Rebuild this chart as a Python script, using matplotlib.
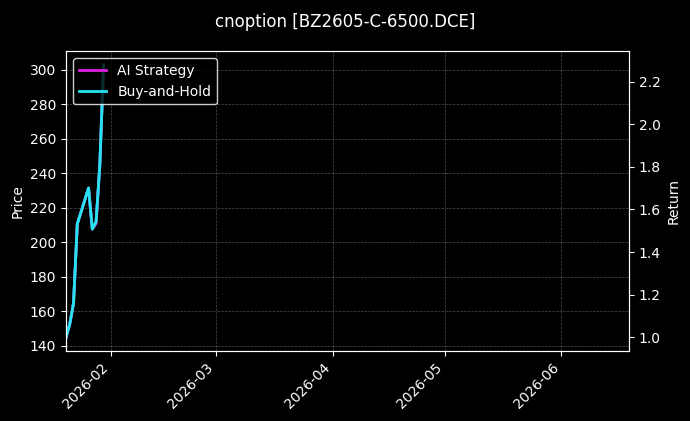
import matplotlib
matplotlib.use("Agg")
import matplotlib.pyplot as plt
import matplotlib.dates as mdates
import pandas as pd

plt.style.use("dark_background")

dates = pd.to_datetime(["2026-01-20", "2026-01-21", "2026-01-22", "2026-01-23",
                        "2026-01-26", "2026-01-27", "2026-01-28", "2026-01-29",
                        "2026-01-30"])
price = [144.8, 152.6, 164.8, 210.6, 231.5, 207.7, 211.8, 244.9, 302.8]
ai_return = [1.000, 1.063, 1.161, 1.532, 1.700, 1.508, 1.534, 1.808, 2.277]
bh_return = [1.000, 1.063, 1.161, 1.532, 1.700, 1.508, 1.541, 1.808, 2.277]
x_range = pd.to_datetime(["2026-01-20", "2026-06-19"])
title = "cnoption [BZ2605-C-6500.DCE]"

fig = plt.figure(figsize=(6.9, 4.21), dpi=100)
fig.patch.set_facecolor("black")
ax1 = fig.add_axes([0.0957, 0.1663, 0.8159, 0.7114])
ax1.set_facecolor("black")
ax1.plot(dates, price, color="#22e5f0", linewidth=2)
ax1.set_ylabel("Price", fontsize=10)
ax1.grid(True, linestyle="--", linewidth=0.5, color="white", alpha=0.3)

ax2 = ax1.twinx()
ax2.plot(dates, ai_return, color="#e020e0", linewidth=2, label="AI Strategy")
ax2.plot(dates, bh_return, color="#22e5f0", linewidth=2, label="Buy-and-Hold")
ax2.set_ylabel("Return", fontsize=10)

ax1.set_xlim(x_range[0], x_range[1])
ax1.xaxis.set_major_locator(mdates.MonthLocator())
ax1.xaxis.set_major_formatter(mdates.DateFormatter("%Y-%m"))
for lab in ax1.get_xticklabels():
    lab.set_rotation(45)
    lab.set_ha("right")

for ax in (ax1, ax2):
    for sp in ax.spines.values():
        sp.set_color("white")

ax2.legend(loc="upper left", fontsize=10, facecolor="black", edgecolor="white")
fig.suptitle(title, fontsize=12, color="white", y=0.97)

fig.savefig("out.png", dpi=100, facecolor="black")
